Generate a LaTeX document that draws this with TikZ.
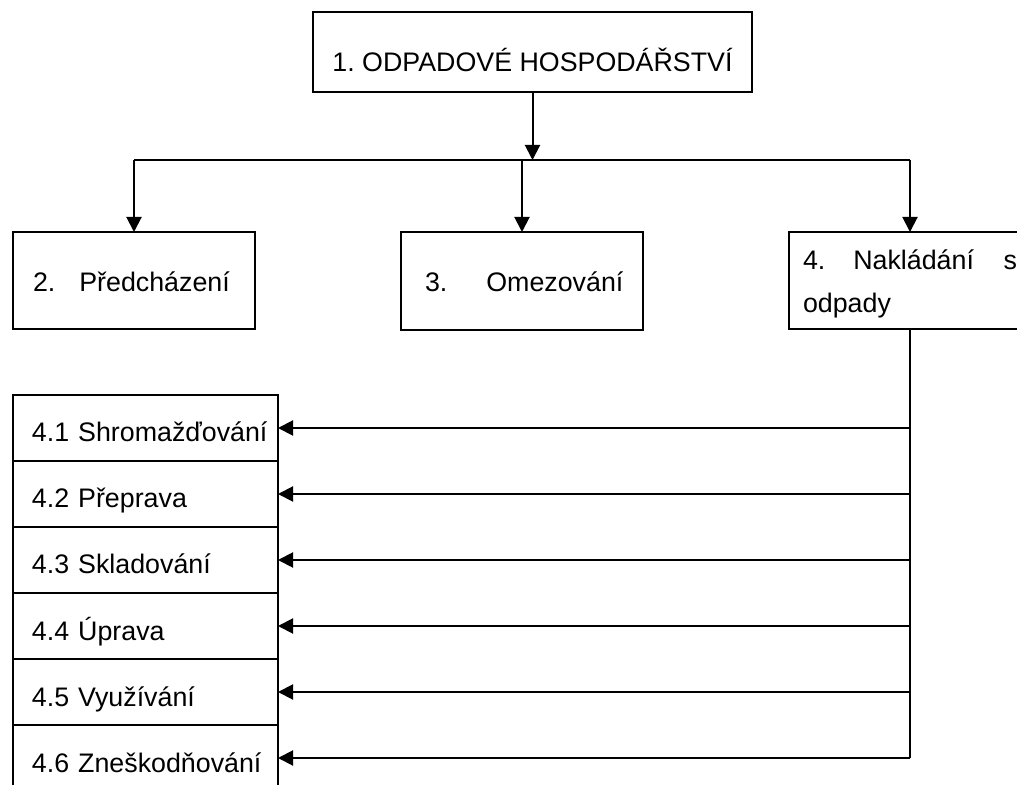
\documentclass[tikz,border=0pt]{standalone}
\usepackage{fontspec}
\setmainfont{Liberation Sans}
\usetikzlibrary{positioning,arrows.meta}
\frenchspacing

\begin{document}
\begin{tikzpicture}[x=0.5pt, y=-0.5pt,
    box/.style={draw, line width=0.75pt, outer sep=0pt, inner ysep=0pt,
      font=\fontsize{13.4}{16}\selectfont},
    levelbox/.style={box, minimum width=121pt, minimum height=48.5pt, align=left},
    rowbox/.style={box, minimum width=132.5pt, minimum height=33pt,
      text width=113.5pt, inner xsep=9.5pt, align=left,
      text height=14pt, text depth=0pt},
    flow/.style={line width=1pt, -{Triangle[length=7.5pt, width=7.5pt]}}]
  \useasboundingbox (0,0) rectangle (1017,785);
  \clip (0,0) rectangle (1017,785);
  % top
  \node[box, minimum width=219.5pt, minimum height=40pt,
    text height=20pt, text depth=0pt] (waste) at (532.5,52) {1. ODPADOVÉ HOSPODÁŘSTVÍ};
  % second level
  \node[levelbox, text width=101pt, inner xsep=10pt,
    text height=11.5pt, text depth=0pt] (prevent) at (134,280.5) {\mbox{2.\hspace{12pt}Předcházení}};
  \node[levelbox, minimum height=49pt, text width=97pt, inner xsep=12pt,
    text height=11pt, text depth=0pt] (limit) at (522,281) {\mbox{3.\hspace{19.5pt}Omezování}};
  \node[levelbox, text width=107pt, inner xsep=7pt, font=\fontsize{13.4}{21.5}\selectfont,
    text height=10pt, text depth=20.5pt] (handle) at (910,280.5) {4.\hspace{14pt}Nakládání\hfill s\\odpady};
  % list of activities
  \node[rowbox] (r1) at (145.5,428) {\mbox{4.1 Shromažďování}};
  \node[rowbox, below=0pt of r1] (r2) {\mbox{4.2 Přeprava}};
  \node[rowbox, below=0pt of r2] (r3) {\mbox{4.3 Skladování}};
  \node[rowbox, below=0pt of r3] (r4) {\mbox{4.4 Úprava}};
  \node[rowbox, below=0pt of r4] (r5) {\mbox{4.5 Využívání}};
  \node[rowbox, below=0pt of r5] (r6) {\mbox{4.6 Zneškodňování}};
  % connectors
  \coordinate (bus) at (530,160);
  \draw[flow] (waste.south) -- (waste.south |- bus);
  \draw[line width=0.75pt] (prevent.north |- bus) -- (handle.north |- bus);
  \foreach \b in {prevent,limit,handle}
    \draw[flow] (\b.north |- bus) -- (\b.north);
  \draw[line width=1pt] (handle.south) -- (handle.south |- r6.east);
  \foreach \i in {1,...,6}
    \draw[flow] (handle.south |- r\i.east) -- (r\i.east);
\end{tikzpicture}
\end{document}
